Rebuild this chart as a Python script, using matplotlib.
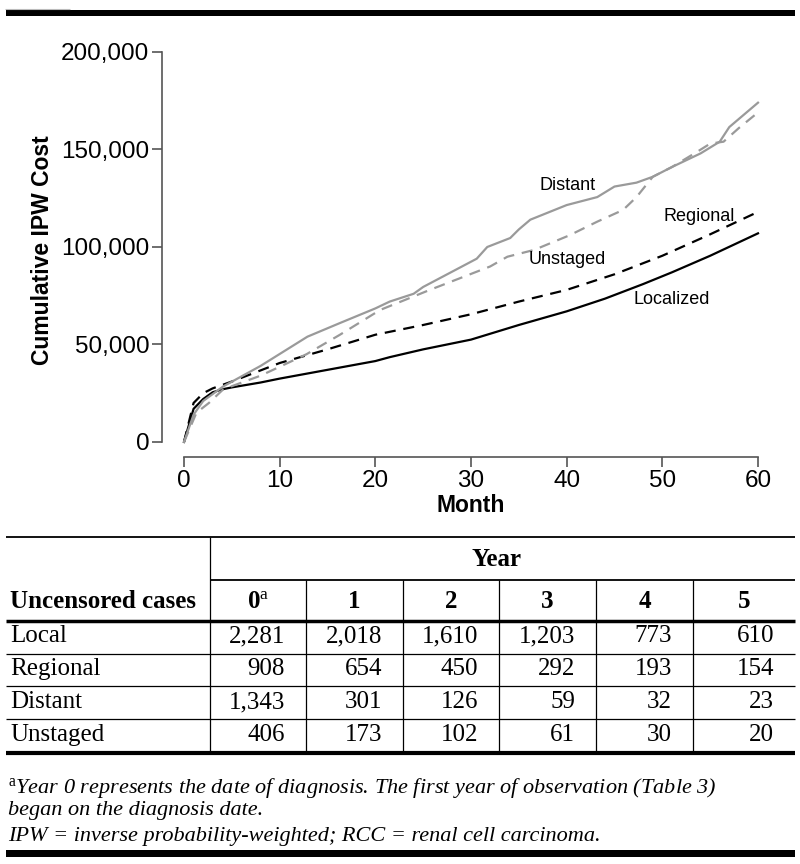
import matplotlib
matplotlib.use("Agg")
import matplotlib.pyplot as plt
from matplotlib.lines import Line2D
from matplotlib.patches import Rectangle

plt.rcParams['font.family'] = ['Liberation Sans', 'DejaVu Sans']
plt.rcParams['mathtext.fontset'] = 'custom'
plt.rcParams['mathtext.rm'] = 'Liberation Serif'
plt.rcParams['mathtext.it'] = 'Liberation Serif:italic'

# courbes (mois, coût cumulé)
loc_m = [0, 1, 2, 3, 4, 5, 8, 10, 15, 20, 21.5, 25, 30, 35, 40, 44, 48, 50, 51, 55, 60]
loc_v = [0, 17000, 22000, 25500, 27000, 28000, 30500, 32500, 37000, 41500, 43500, 47500,
         52500, 60000, 67000, 73500, 81000, 85000, 87000, 95500, 107000]

reg_m = [0, 1, 2, 3, 5, 10, 15, 20, 25, 30, 35, 40, 45, 50, 55, 60]
reg_v = [0, 20000, 25000, 27500, 31000, 40500, 47500, 55000, 60000, 65500, 72000, 78000,
         86000, 95500, 106500, 118000]

dis_m = [0, 1, 2, 4.1, 8, 12.9, 16.3, 20, 21.5, 24, 25, 30.6, 31.7, 34.1, 35, 36.2, 40, 43.2,
         45, 47.3, 49, 51, 54, 56, 57, 60]
dis_v = [0, 14000, 21000, 28500, 39000, 54000, 61000, 68500, 72000, 76000, 79500, 94000,
         100000, 104600, 109000, 114000, 121500, 125600, 131000, 133000, 136000, 141000,
         148000, 154000, 161500, 174000]

uns_m = [0, 1.3, 2.6, 4.1, 8, 12.8, 16.3, 20.5, 25.7, 29.9, 32, 33.8, 36.6, 40.3, 43.2, 45.9,
         47.3, 49, 51, 53.6, 55, 56.4, 58, 60]
uns_v = [0, 15000, 20000, 27000, 34000, 45000, 55000, 67700, 78000, 86000, 90000, 95000,
         98500, 106000, 113000, 119000, 125600, 136000, 141000, 148700, 153000, 154000,
         161000, 169000]

# tableau
annees = ['0', '1', '2', '3', '4', '5']
stades = ['Local', 'Regional', 'Distant', 'Unstaged']
cas = [['2,281', '2,018', '1,610', '1,203', '773', '610'],
       ['908', '654', '450', '292', '193', '154'],
       ['1,343', '301', '126', '59', '32', '23'],
       ['406', '173', '102', '61', '30', '20']]

W, H = 800, 864
def fx(x):   # pixel -> fraction de figure
    return x / W
def fy(y):
    return 1 - y / H

fig = plt.figure(figsize=(8, 8.64), dpi=100)

def ligne(x0, y0, x1, y1, lw=1.0, c='black'):
    fig.add_artist(Line2D([fx(x0), fx(x1)], [fy(y0), fy(y1)], transform=fig.transFigure,
                          color=c, lw=lw, solid_capstyle='butt'))

# barres noires haut et bas
fig.add_artist(Rectangle((fx(6), fy(16)), fx(789), 6.5 / H, transform=fig.transFigure,
                         color='black', lw=0))
fig.add_artist(Rectangle((fx(6), fy(857)), fx(789), 7 / H, transform=fig.transFigure,
                         color='black', lw=0))
ligne(5, 8.5, 70, 8.5, lw=0.8, c='#bbbbbb')

# graphique
ax = fig.add_axes([fx(162), fy(457), fx(780 - 162), (457 - 44) / H])
gris = '#9a9a9a'
ax.plot(loc_m, loc_v, color='black', lw=1.6)
ax.plot(reg_m, reg_v, color='black', lw=1.6, ls=(0, (5, 3.5)))
ax.plot(dis_m, dis_v, color=gris, lw=1.6)
ax.plot(uns_m, uns_v, color=gris, lw=1.6, ls=(0, (5, 3.5)))

ax.text(40.1, 131300, 'Distant', fontsize=13, ha='center', va='center')
ax.text(53.9, 115400, 'Regional', fontsize=13, ha='center', va='center')
ax.text(40.1, 93800, 'Unstaged', fontsize=13, ha='center', va='center')
ax.text(51.0, 73300, 'Localized', fontsize=13, ha='center', va='center')

ax.set_xlim(-2.3, 62.3)
ax.set_ylim(-7700, 204100)
ax.set_xticks([0, 10, 20, 30, 40, 50, 60])
ax.set_yticks([0, 50000, 100000, 150000, 200000])
ax.set_yticklabels(['0', '50,000', '100,000', '150,000', '200,000'])
for s in ['top', 'right']:
    ax.spines[s].set_visible(False)
ax.spines['bottom'].set_bounds(0, 60)
ax.spines['left'].set_bounds(0, 200000)
for s in ['bottom', 'left']:
    ax.spines[s].set_color('#555555')
    ax.spines[s].set_linewidth(1.2)
ax.tick_params(length=7, width=1.2, color='#555555', labelsize=17.5, pad=2)
ax.set_xlabel('Month', fontsize=16.5, fontweight='bold', labelpad=2)
ax.set_ylabel('Cumulative IPW Cost', fontsize=16.5, fontweight='bold', labelpad=5)

# tableau des cas
serif = ['Liberation Serif', 'DejaVu Serif']
fs = 18
ligne(6, 537, 795, 537, lw=1.3)
ligne(210, 580, 795, 580, lw=1.3)
ligne(6, 621, 795, 621, lw=2.5)
for y in [654, 686, 719]:
    ligne(6, y, 795, y, lw=0.9)
ligne(6, 753, 795, 753, lw=3.0)
ligne(210, 537, 210, 752, lw=0.9)
bords = [210, 306, 403, 499, 596, 693, 795]
for x in bords[1:-1]:
    ligne(x, 580, x, 752, lw=0.9)

fig.text(fx(497), fy(560), 'Year', family=serif, fontsize=fs, fontweight='bold',
         ha='center', va='center')
fig.text(fx(10), fy(601), 'Uncensored cases', family=serif, fontsize=fs, fontweight='bold',
         ha='left', va='center')
for i, a in enumerate(annees):
    xc = (bords[i] + bords[i + 1]) / 2
    lab = a + r'$^{\mathrm{a}}$' if i == 0 else a
    fig.text(fx(xc), fy(601), lab, family=serif, fontsize=fs, fontweight='bold',
             ha='center', va='center')

rang_y = [636, 669, 702, 735]
for j, st in enumerate(stades):
    fig.text(fx(10), fy(rang_y[j]), st, family=serif, fontsize=fs, ha='left', va='center')
    for i, v in enumerate(cas[j]):
        xr = bords[i + 1] - 21
        fig.text(fx(xr), fy(rang_y[j]), v, family=serif, fontsize=fs, ha='right', va='center')

# notes
fn = 16
fig.text(fx(8), fy(788), r'$^{\mathrm{a}}$Year 0 represents the date of diagnosis. The first year of observation (Table 3)',
         family=serif, style='italic', fontsize=fn, ha='left', va='center')
fig.text(fx(8), fy(811), 'began on the diagnosis date.', family=serif, style='italic',
         fontsize=fn, ha='left', va='center')
fig.text(fx(8), fy(836), 'IPW = inverse probability-weighted; RCC = renal cell carcinoma.',
         family=serif, style='italic', fontsize=fn, ha='left', va='center')

fig.savefig('out.png', dpi=100)
